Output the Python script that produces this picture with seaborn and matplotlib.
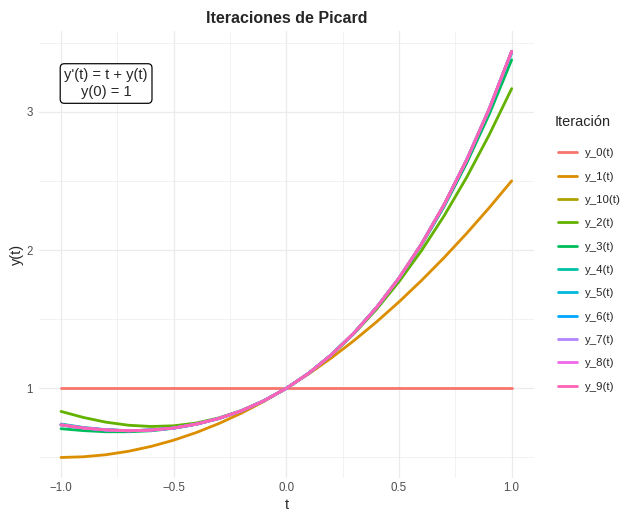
import numpy as np
import pandas as pd
import seaborn as sns
import matplotlib
matplotlib.use("Agg")
import matplotlib.pyplot as plt
from matplotlib.lines import Line2D

# valores (t cada 0.1)
t_vals = [-1.0, -0.9, -0.8, -0.7, -0.6, -0.5, -0.4, -0.3, -0.2, -0.1, 0.0,
          0.1, 0.2, 0.3, 0.4, 0.5, 0.6, 0.7, 0.8, 0.9, 1.0]

y_0 = [1.0] * 21
y_1 = [0.500, 0.505, 0.520, 0.545, 0.580, 0.625, 0.680, 0.745, 0.820, 0.905, 1.000,
       1.105, 1.220, 1.345, 1.480, 1.625, 1.780, 1.945, 2.120, 2.305, 2.500]
y_2 = [0.833, 0.789, 0.755, 0.733, 0.724, 0.729, 0.749, 0.786, 0.839, 0.910, 1.000,
       1.110, 1.241, 1.395, 1.571, 1.771, 1.996, 2.247, 2.525, 2.832, 3.167]
y_3 = [0.708, 0.694, 0.686, 0.686, 0.693, 0.711, 0.740, 0.781, 0.837, 0.910, 1.000,
       1.110, 1.243, 1.399, 1.582, 1.794, 2.037, 2.314, 2.628, 2.980, 3.375]
y_4 = [0.742, 0.717, 0.701, 0.694, 0.698, 0.713, 0.741, 0.782, 0.837, 0.910, 1.000,
       1.110, 1.243, 1.400, 1.584, 1.797, 2.043, 2.326, 2.648, 3.013, 3.425]
y_5 = [0.735, 0.713, 0.698, 0.693, 0.698, 0.713, 0.741, 0.782, 0.837, 0.910, 1.000,
       1.110, 1.243, 1.400, 1.584, 1.797, 2.044, 2.327, 2.651, 3.018, 3.435]
y_6 = [0.736, 0.713, 0.699, 0.693, 0.698, 0.713, 0.741, 0.782, 0.837, 0.910, 1.000,
       1.110, 1.243, 1.400, 1.584, 1.797, 2.044, 2.327, 2.651, 3.019, 3.436]
y_7 = [0.736, 0.713, 0.699, 0.693, 0.698, 0.713, 0.741, 0.782, 0.837, 0.910, 1.000,
       1.110, 1.243, 1.400, 1.584, 1.797, 2.044, 2.328, 2.651, 3.019, 3.437]
y_8 = [0.736, 0.713, 0.699, 0.693, 0.698, 0.713, 0.741, 0.782, 0.837, 0.910, 1.000,
       1.110, 1.243, 1.400, 1.584, 1.797, 2.044, 2.328, 2.651, 3.019, 3.437]
y_9 = [0.736, 0.713, 0.699, 0.693, 0.698, 0.713, 0.741, 0.782, 0.837, 0.910, 1.000,
       1.110, 1.243, 1.400, 1.584, 1.797, 2.044, 2.328, 2.651, 3.019, 3.437]
y_10 = [0.736, 0.713, 0.699, 0.693, 0.698, 0.713, 0.741, 0.782, 0.837, 0.910, 1.000,
        1.110, 1.243, 1.400, 1.584, 1.797, 2.044, 2.328, 2.651, 3.019, 3.437]

# orden alfabetico como en el grafico original
series_names = ["y_0(t)", "y_1(t)", "y_10(t)", "y_2(t)", "y_3(t)", "y_4(t)",
                "y_5(t)", "y_6(t)", "y_7(t)", "y_8(t)", "y_9(t)"]
series_vals = [y_0, y_1, y_10, y_2, y_3, y_4, y_5, y_6, y_7, y_8, y_9]
colors = ["#F8766D", "#DB8E00", "#AEA200", "#64B200", "#00BD5C", "#00C1A7",
          "#00BADE", "#00A6FF", "#B385FF", "#EF67EB", "#FF63B6"]

df = pd.concat([pd.DataFrame({"t": t_vals, "y": v, "Iteración": n})
                for n, v in zip(series_names, series_vals)], ignore_index=True)

sns.set_style("white")
plt.rcParams['font.family'] = ['Liberation Sans', 'DejaVu Sans']

fig = plt.figure(figsize=(626 / 72, 511 / 72), dpi=72)
ax = fig.add_axes([38.5 / 626, (511 - 477.8) / 511, (534.2 - 38.5) / 626, (477.8 - 31.1) / 511])

sns.lineplot(data=df, x="t", y="y", hue="Iteración", hue_order=series_names,
             palette=colors, linewidth=2.8, legend=False, ax=ax, sort=False)

ax.set_xlim(-1.1, 1.1)
ax.set_ylim(0.353, 3.583)

ax.set_xticks([-1.0, -0.5, 0.0, 0.5, 1.0])
ax.set_xticklabels(["\u22121.0", "\u22120.5", "0.0", "0.5", "1.0"])
ax.set_xticks([-0.75, -0.25, 0.25, 0.75], minor=True)
ax.set_yticks([1, 2, 3])
ax.set_yticklabels(["1", "2", "3"])
ax.set_yticks([0.5, 1.5, 2.5, 3.5], minor=True)

ax.grid(True, which="major", color="#EBEBEB", linewidth=1.3)
ax.grid(True, which="minor", color="#EBEBEB", linewidth=0.65)
ax.set_axisbelow(True)
for s in ax.spines.values():
    s.set_visible(False)
ax.tick_params(which="both", length=0, labelsize=11.5, labelcolor="#4D4D4D")
ax.tick_params(axis="x", pad=4)
ax.tick_params(axis="y", pad=6)

ax.set_xlabel("t", fontsize=14.5, labelpad=4)
ax.set_ylabel("y(t)", fontsize=14.5, labelpad=2)
ax.set_title("Iteraciones de Picard", fontsize=16, fontweight="bold", pad=8)

ax.text(-0.8, 3.204, "y'(t) = t + y(t)\ny(0) = 1", ha="center", va="center",
        fontsize=14.8, multialignment="center", linespacing=1.3,
        bbox=dict(boxstyle="round,pad=0.28", fc="white", ec="black", lw=1.2))

fig.text(555 / 626, 1 - 122 / 511, "Iteración", fontsize=14.5, va="center", ha="left")
handles = [Line2D([0], [0], color=c, lw=2.8) for c in colors]
fig.legend(handles, series_names, loc="upper left",
           bbox_to_anchor=(548 / 626, 1 - 138 / 511), frameon=False,
           fontsize=11.4, handlelength=1.65, handletextpad=0.7,
           labelspacing=1.17)

fig.savefig("out.png", dpi=72, facecolor="white")
